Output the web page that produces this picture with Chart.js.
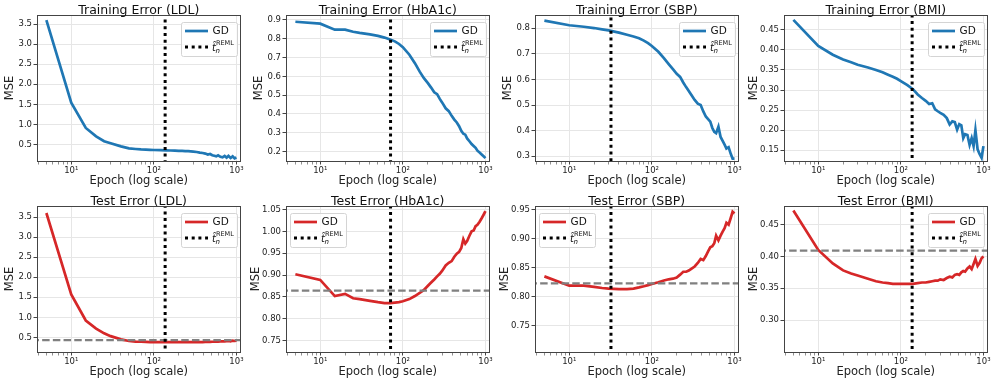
<!DOCTYPE html>
<html>
<head>
<meta charset="utf-8">
<script src="https://cdn.jsdelivr.net/npm/chart.js@4.4.1/dist/chart.umd.min.js"></script>
<style>
  html, body { margin: 0; padding: 0; background: #fff; }
  #fig { position: relative; width: 999px; height: 383px; overflow: hidden; }
  #fig canvas { position: absolute; }
</style>
</head>
<body>
<div id="fig"></div>
<script>
// epochs where the error was recorded
const epochs = [5, 10, 15, 20, 25, 30, 40, 50, 60, 70, 80, 90, 100, 120, 140, 160, 180, 200, 220, 240,
  260, 280, 300, 330, 360, 390, 420, 450, 480, 510, 540, 570, 600, 640, 680, 720, 760, 800, 850, 900, 950, 1000];

const targets = ['LDL', 'HbA1c', 'SBP', 'BMI'];

const trainLDL = [3.6, 1.54, 0.91, 0.70, 0.58, 0.53, 0.45, 0.40, 0.385, 0.375, 0.37, 0.365, 0.36, 0.355, 0.35,
  0.347, 0.343, 0.34, 0.337, 0.333, 0.33, 0.325, 0.32, 0.31, 0.295, 0.285, 0.27, 0.245, 0.26, 0.23, 0.215,
  0.2, 0.225, 0.19, 0.175, 0.21, 0.17, 0.215, 0.16, 0.2, 0.15, 0.17];
const trainHbA1c = [0.89, 0.88, 0.848, 0.848, 0.837, 0.831, 0.823, 0.815, 0.806, 0.796, 0.786, 0.772, 0.755,
  0.715, 0.67, 0.625, 0.59, 0.565, 0.54, 0.515, 0.505, 0.48, 0.46, 0.43, 0.415, 0.39, 0.37, 0.355, 0.335,
  0.31, 0.295, 0.29, 0.27, 0.255, 0.24, 0.23, 0.22, 0.205, 0.195, 0.185, 0.175, 0.165];
const trainSBP = [0.83, 0.812, 0.806, 0.801, 0.796, 0.792, 0.783, 0.775, 0.768, 0.761, 0.752, 0.742, 0.731,
  0.708, 0.683, 0.66, 0.64, 0.622, 0.61, 0.588, 0.57, 0.555, 0.54, 0.52, 0.505, 0.5, 0.475, 0.455, 0.445,
  0.435, 0.41, 0.395, 0.39, 0.415, 0.375, 0.36, 0.345, 0.33, 0.335, 0.31, 0.29, 0.29];
const trainBMI = [0.475, 0.41, 0.388, 0.376, 0.369, 0.363, 0.356, 0.35, 0.344, 0.338, 0.333, 0.328, 0.322,
  0.312, 0.302, 0.289, 0.28, 0.273, 0.265, 0.267, 0.252, 0.247, 0.243, 0.238, 0.23, 0.214, 0.222, 0.22,
  0.201, 0.215, 0.212, 0.18, 0.19, 0.188, 0.163, 0.18, 0.16, 0.2, 0.152, 0.14, 0.131, 0.16];

const testLDL = [3.6, 1.57, 0.92, 0.72, 0.6, 0.53, 0.45, 0.41, 0.395, 0.39, 0.385, 0.382, 0.38, 0.38, 0.38,
  0.38, 0.38, 0.38, 0.38, 0.38, 0.38, 0.38, 0.38, 0.38, 0.38, 0.382, 0.384, 0.386, 0.388, 0.39, 0.39,
  0.392, 0.395, 0.398, 0.4, 0.402, 0.405, 0.41, 0.4, 0.42, 0.41, 0.42];
const testHbA1c = [0.902, 0.889, 0.852, 0.857, 0.847, 0.845, 0.841, 0.838, 0.836, 0.836, 0.837, 0.838, 0.84,
  0.845, 0.852, 0.859, 0.866, 0.875, 0.883, 0.89, 0.897, 0.903, 0.91, 0.922, 0.928, 0.932, 0.942, 0.949,
  0.953, 0.962, 0.982, 0.972, 0.978, 0.99, 1.0, 1.002, 1.012, 1.015, 1.022, 1.03, 1.038, 1.046];
const testSBP = [0.835, 0.819, 0.819, 0.817, 0.815, 0.814, 0.813, 0.813, 0.814, 0.816, 0.818, 0.82, 0.822,
  0.825, 0.828, 0.83, 0.831, 0.833, 0.838, 0.843, 0.843, 0.845, 0.848, 0.852, 0.858, 0.865, 0.863, 0.87,
  0.878, 0.885, 0.887, 0.892, 0.905, 0.897, 0.905, 0.912, 0.918, 0.927, 0.924, 0.935, 0.946, 0.943];
const testBMI = [0.472, 0.41, 0.389, 0.378, 0.373, 0.37, 0.365, 0.361, 0.359, 0.358, 0.357, 0.357, 0.357,
  0.357, 0.357, 0.358, 0.359, 0.359, 0.36, 0.361, 0.362, 0.362, 0.364, 0.363, 0.366, 0.368, 0.367, 0.371,
  0.372, 0.371, 0.375, 0.377, 0.376, 0.381, 0.384, 0.38, 0.388, 0.396, 0.385, 0.39, 0.397, 0.4];

// REML stopping time and REML test error per target
const tReml = [137, 71, 32, 137];
const remlTestMSE = [0.43, 0.8645, 0.823, 0.409];

// tick labels
const xMajorTicks = [10, 100, 1000];
const xMinorTicks = [4, 5, 6, 7, 8, 9, 20, 30, 40, 50, 60, 70, 80, 90, 200, 300, 400, 500, 600, 700, 800, 900];
const xTickLabels = ['10\u00b9', '10\u00b2', '10\u00b3'];
const trainYTicks = [
  [0.5, 1.0, 1.5, 2.0, 2.5, 3.0, 3.5],
  [0.2, 0.3, 0.4, 0.5, 0.6, 0.7, 0.8, 0.9],
  [0.3, 0.4, 0.5, 0.6, 0.7, 0.8],
  [0.15, 0.20, 0.25, 0.30, 0.35, 0.40, 0.45]
];
const testYTicks = [
  [0.5, 1.0, 1.5, 2.0, 2.5, 3.0, 3.5],
  [0.75, 0.80, 0.85, 0.90, 0.95, 1.00, 1.05],
  [0.75, 0.80, 0.85, 0.90, 0.95],
  [0.30, 0.35, 0.40, 0.45]
];

// axis limits
const trainYRange = [[0.085, 3.73], [0.15, 0.926], [0.281, 0.852], [0.123, 0.487]];
const testYRange = [[0.135, 3.775], [0.724, 1.058], [0.705, 0.956], [0.25, 0.479]];
const xRange = [3.85, 1120];

Chart.defaults.font.family = '"DejaVu Sans", sans-serif';
Chart.defaults.color = '#222';

const trainSeries = [trainLDL, trainHbA1c, trainSBP, trainBMI];
const testSeries = [testLDL, testHbA1c, testSBP, testBMI];
const decimals = [1, 1, 1, 2];
const testDecimals = [1, 2, 2, 2];
const ylabX = [4.5, 4.5, 4.5, 0.8];
const testYlabX = [4.5, 0.8, 0.8, 0.8];
const testLegendSide = ['right', 'left', 'left', 'right'];

// title, frame and legend drawn on the canvas
const panelDeco = {
  id: 'panelDeco',
  afterDatasetsDraw(chart, args, o) {
    const {ctx, chartArea: a} = chart;
    ctx.save();
    ctx.strokeStyle = '#444';
    ctx.lineWidth = 1;
    ctx.strokeRect(Math.round(a.left) + 0.5, Math.round(a.top) + 0.5,
      Math.round(a.right - a.left) - 1, Math.round(a.bottom - a.top));
    ctx.fillStyle = '#111';
    ctx.font = '12.5px "DejaVu Sans"';
    ctx.textAlign = 'center';
    ctx.textBaseline = 'alphabetic';
    ctx.fillText(o.title, (a.left + a.right) / 2, a.top - 1.5);

    // legend
    const w = 56, h = 34;
    const x = Math.round(o.side === 'left' ? a.left + 4 : a.right - 4 - w) + 0.5;
    const y = Math.round(a.top + 7) + 0.5;
    ctx.fillStyle = 'rgba(255,255,255,0.8)';
    ctx.strokeStyle = '#d4d4d4';
    ctx.beginPath();
    ctx.roundRect(x, y, w, h, 2);
    ctx.fill();
    ctx.stroke();
    ctx.strokeStyle = o.color;
    ctx.lineWidth = 2.7;
    ctx.beginPath();
    ctx.moveTo(x + 3.5, y + 8.5);
    ctx.lineTo(x + 26.5, y + 8.5);
    ctx.stroke();
    ctx.strokeStyle = '#000';
    ctx.lineWidth = 3;
    ctx.setLineDash([3, 3.7]);
    ctx.beginPath();
    ctx.moveTo(x + 3.5, y + 24.5);
    ctx.lineTo(x + 26.5, y + 24.5);
    ctx.stroke();
    ctx.setLineDash([]);
    ctx.fillStyle = '#111';
    ctx.textAlign = 'left';
    ctx.textBaseline = 'middle';
    ctx.font = '10.5px "DejaVu Sans"';
    ctx.fillText('GD', x + 31, y + 9);
    ctx.textBaseline = 'alphabetic';
    ctx.font = 'italic 10px "DejaVu Sans"';
    ctx.fillText('t\u0302', x + 30.5, y + 28);
    ctx.font = 'italic 7px "DejaVu Sans"';
    ctx.fillText('n', x + 34, y + 30.5);
    ctx.font = '6.5px "DejaVu Sans"';
    ctx.fillText('REML', x + 34.5, y + 22.5);
    ctx.restore();
  }
};

function makePanel(row, col) {
  const isTest = row === 1;
  const values = isTest ? testSeries[col] : trainSeries[col];
  const color = isTest ? '#d62728' : '#1f77b4';
  const range = isTest ? testYRange[col] : trainYRange[col];
  const yTicks = isTest ? testYTicks[col] : trainYTicks[col];
  const dec = isTest ? testDecimals[col] : decimals[col];

  const canvas = document.createElement('canvas');
  canvas.width = 249;
  canvas.height = 191;
  canvas.style.left = (col * 249) + 'px';
  canvas.style.top = (row * 191) + 'px';
  document.getElementById('fig').appendChild(canvas);

  const datasets = [
    {
      label: 'GD',
      data: epochs.map((e, i) => ({x: e, y: values[i]})),
      borderColor: color,
      borderWidth: 2.7,
      pointRadius: 0,
      order: 3
    },
    {
      label: 'REML',
      data: [{x: tReml[col], y: -100}, {x: tReml[col], y: 100}],
      borderColor: '#000',
      borderWidth: 3,
      borderDash: [3, 3.7],
      pointRadius: 0,
      order: 1
    }
  ];
  if (isTest) {
    datasets.push({
      label: 'REML test',
      data: [{x: 1, y: remlTestMSE[col]}, {x: 10000, y: remlTestMSE[col]}],
      borderColor: '#808080',
      borderWidth: 2.4,
      borderDash: [7.5, 3.2],
      pointRadius: 0,
      order: 2
    });
  }

  new Chart(canvas, {
    type: 'line',
    data: {datasets: datasets},
    plugins: [panelDeco],
    options: {
      responsive: false,
      animation: false,
      events: [],
      layout: {padding: {left: 0, right: 8.5, top: 15, bottom: 0}},
      plugins: {
        legend: {display: false},
        tooltip: {enabled: false},
        panelDeco: {
          title: (isTest ? 'Test Error (' : 'Training Error (') + targets[col] + ')',
          color: color,
          side: isTest ? testLegendSide[col] : 'right'
        }
      },
      scales: {
        x: {
          type: 'logarithmic',
          min: xRange[0],
          max: xRange[1],
          afterBuildTicks: s => {
            s.ticks = xMinorTicks.concat(xMajorTicks).sort((a, b) => a - b)
              .map(v => ({value: v, major: xMajorTicks.includes(v)}));
          },
          afterFit: s => { s.height = 30; },
          border: {display: false},
          grid: {
            color: c => (c.tick && c.tick.major) ? '#e6e6e6' : 'rgba(0,0,0,0)',
            tickColor: '#444',
            tickWidth: c => (c.tick && c.tick.major) ? 1 : 0.6,
            tickLength: 3.5
          },
          ticks: {
            autoSkip: false,
            maxRotation: 0,
            padding: 1.5,
            font: {size: 8.5},
            callback: v => {
              const k = xMajorTicks.indexOf(v);
              return k >= 0 ? xTickLabels[k] : '';
            }
          },
          title: {
            display: true,
            text: 'Epoch (log scale)',
            font: {size: 11.5, lineHeight: 1},
            padding: {top: 0, bottom: 4.2}
          }
        },
        y: {
          min: range[0],
          max: range[1],
          afterBuildTicks: s => { s.ticks = yTicks.map(v => ({value: v})); },
          afterFit: s => { s.width = 37; },
          border: {display: false},
          grid: {color: '#e6e6e6', tickColor: '#444', tickLength: 3.5},
          ticks: {
            padding: 1.5,
            font: {size: 8.5},
            callback: v => v.toFixed(dec)
          },
          title: {
            display: true,
            text: 'MSE',
            font: {size: 11.5, lineHeight: 1},
            padding: {top: isTest ? testYlabX[col] : ylabX[col], bottom: 0}
          }
        }
      }
    }
  });
}

for (let r = 0; r < 2; r++) {
  for (let c = 0; c < 4; c++) makePanel(r, c);
}
</script>
</body>
</html>
